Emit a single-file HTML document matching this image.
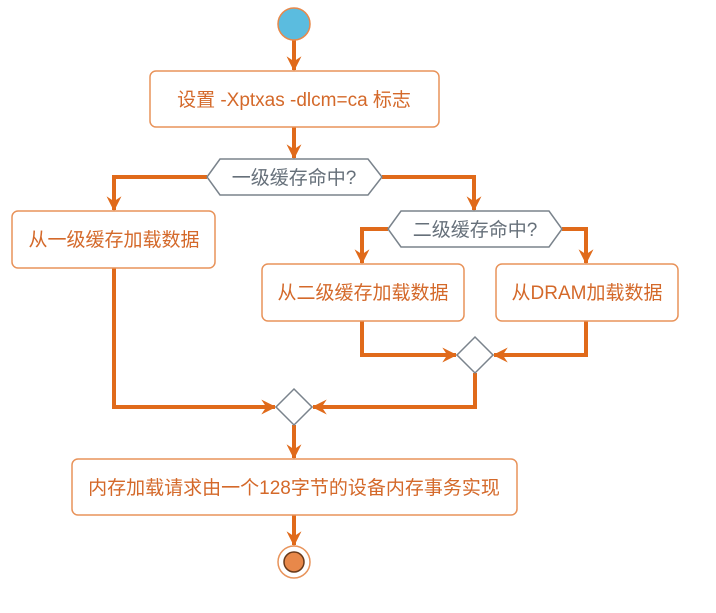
<!DOCTYPE html>
<html><head><meta charset="utf-8"><style>
body{margin:0;background:#fff;}
svg text{font-family:"Liberation Sans","Noto Sans CJK SC",sans-serif;font-size:19px;}
</style></head><body>
<svg width="716" height="608" viewBox="0 0 716 608" xmlns="http://www.w3.org/2000/svg">
<defs>
<marker id="a" viewBox="0 0 12 12" refX="11" refY="6" markerWidth="15" markerHeight="15" markerUnits="userSpaceOnUse" orient="auto">
<path d="M0,0 L12,6 L0,12 L4,6 Z" fill="#e06a1a"/>
</marker>
</defs>
<g fill="none" stroke="#e06a1a" stroke-width="4" stroke-linejoin="miter">
<path d="M294,40 V70" marker-end="url(#a)"/>
<path d="M294,127 V158" marker-end="url(#a)"/>
<path d="M207,177 H114 V210" marker-end="url(#a)"/>
<path d="M382,177 H474 V210" marker-end="url(#a)"/>
<path d="M388,229 H362 V263" marker-end="url(#a)"/>
<path d="M562,229 H586 V263" marker-end="url(#a)"/>
<path d="M362,321 V355 H456" marker-end="url(#a)"/>
<path d="M586,321 V355 H494" marker-end="url(#a)"/>
<path d="M475,373 V407 H313" marker-end="url(#a)"/>
<path d="M114,268 V407 H275" marker-end="url(#a)"/>
<path d="M294,425 V458" marker-end="url(#a)"/>
<path d="M294,515 V545" marker-end="url(#a)"/>
</g>
<circle cx="294" cy="24" r="16" fill="#5bbcdf" stroke="#e8884a" stroke-width="1.5"/>
<g fill="#fff" stroke="#e8935a" stroke-width="1.5">
<rect x="150" y="71" width="289" height="56" rx="6"/>
<rect x="12" y="211" width="203" height="57" rx="6"/>
<rect x="262" y="264" width="202" height="57" rx="6"/>
<rect x="496" y="264" width="182" height="57" rx="6"/>
<rect x="72" y="459" width="445" height="56" rx="6"/>
</g>
<g fill="#fff" stroke="#7a838c" stroke-width="1.5">
<path d="M207,177 L220,159 H368 L382,177 L368,195 H220 Z"/>
<path d="M388,229 L401,211 H549 L562,229 L549,247 H401 Z"/>
<path d="M475,337 L493,355 L475,373 L457,355 Z"/>
<path d="M294,389 L312,407 L294,425 L276,407 Z"/>
</g>
<circle cx="294" cy="562" r="16" fill="#fff" stroke="#e8935a" stroke-width="1.5"/>
<circle cx="294" cy="562" r="10" fill="#e8884a" stroke="#6a3a1a" stroke-width="1.5"/>
<g fill="#d4692a" text-anchor="middle">
<text x="294" y="106">设置 -Xptxas -dlcm=ca 标志</text>
<text x="114" y="246">从一级缓存加载数据</text>
<text x="363" y="299">从二级缓存加载数据</text>
<text x="587" y="299">从DRAM加载数据</text>
<text x="294" y="494">内存加载请求由一个128字节的设备内存事务实现</text>
</g>
<g fill="#66707a" text-anchor="middle">
<text x="294" y="184">一级缓存命中?</text>
<text x="475" y="236">二级缓存命中?</text>
</g>
</svg>
</body></html>
